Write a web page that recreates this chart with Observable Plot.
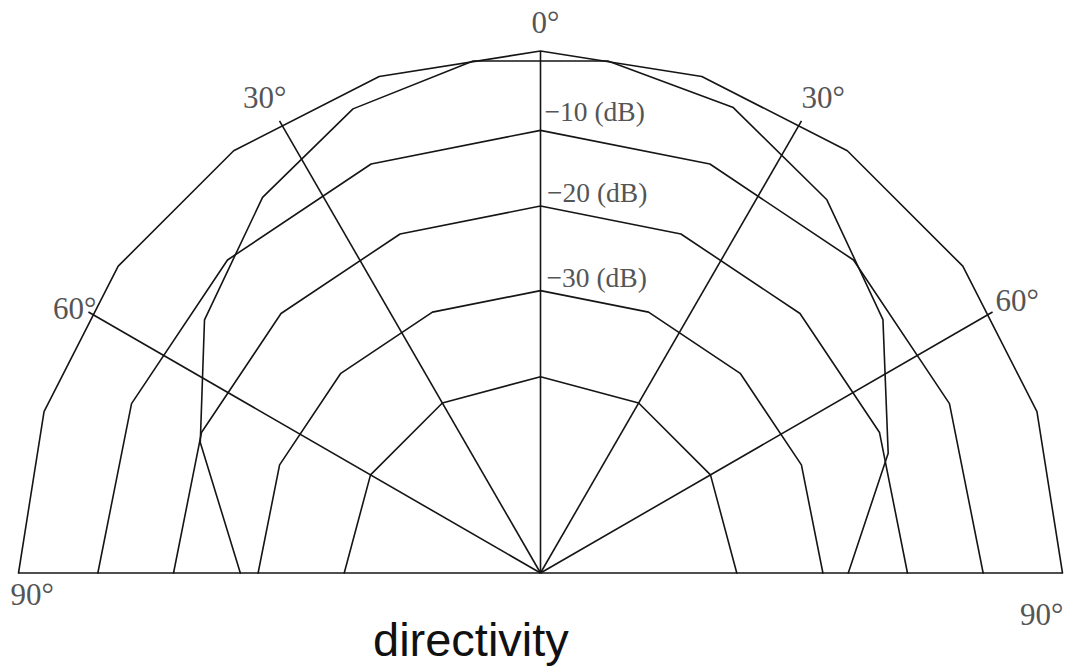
<!DOCTYPE html>
<html>
<head>
<meta charset="utf-8">
<script src="https://cdn.jsdelivr.net/npm/d3@7"></script>
<script src="https://cdn.jsdelivr.net/npm/@observablehq/plot@0.6"></script>
<style>
  body { margin: 0; background: #fff; }
  #chart { width: 1068px; height: 630px; }
  #title {
    margin-top: -20px;
    padding-left: 373px;
    font-family: "Liberation Sans", Arial, sans-serif;
    font-size: 47px;
    line-height: 60px;
    color: #111;
  }
</style>
</head>
<body>
<div id="chart"></div>
<div id="title">directivity</div>
<script>
// ---- data ----
// grid rings (dB) and the angular spacing (deg) of each ring's polygon vertices
const ringLevels = [0, -10, -20, -30, -40];
const ringVertexStep = [18, 22.5, 22.5, 22.5, 30];

// angular spokes (deg from the 0° axis)
const spokeAngles = [-60, -30, 0, 30, 60];

// angle tick labels
const angleTicks = [-90, -60, -30, 0, 30, 60, 90];
const angleTickLabels = ["90°", "60°", "30°", "0°", "30°", "60°", "90°"];

// level labels on the 0° axis
const dbLabelLevels = [-10, -20, -30];
const dbLabelText = ["\u221210 (dB)", "\u221220 (dB)", "\u221230 (dB)"];

// measured directivity pattern: angle (deg) and level (dB)
const patternAngles = [-90, -69, -53, -36.5, -22, -7.5, 7.5, 22.5, 37.5, 53.5, 71, 90];
const patternDb     = [-27.9, -20.3, -12.9, -6.9, -2.7, -0.7, -0.7, -2.3, -6.5, -12.2, -19.9, -27.0];

// ---- layout ----
const W = 1068, H = 630, CX = 540, CY = 572.5, R = 522;
// radial dB axis (outer ring = 1)
const rel = d3.scaleLinear().domain([-40, -30, -20, -10, 0]).range([0.376, 0.541, 0.703, 0.848, 1]);
const toXY = (deg, db) => {
  const a = deg * Math.PI / 180, r = rel(db);
  return {x: r * Math.sin(a), y: r * Math.cos(a)};
};

const ringRows = ringLevels.flatMap((lv, i) => {
  const s = ringVertexStep[i], n = Math.round(180 / s);
  return d3.range(n + 1).map(k => ({ring: lv, ...toXY(-90 + k * s, lv)}));
});
const spokeRows = spokeAngles.map(a => { const p = toXY(a, 0); return {x1: 0, y1: 0, x2: p.x, y2: p.y}; });
const baseRow = [{x1: toXY(-90, 0).x, y1: 0, x2: toXY(90, 0).x, y2: 0}];
const patternRows = patternAngles.map((a, i) => toXY(a, patternDb[i]));

const lineStyle = {stroke: "#151515", strokeWidth: 1.6};
const angleLayout = [
  {textAnchor: "start", dx: -8, dy: 31.5},
  {textAnchor: "end",   dx: 8,  dy: 6.5},
  {textAnchor: "end",   dx: 7,  dy: -12.5},
  {textAnchor: "start", dx: -9, dy: -18.5},
  {textAnchor: "start", dx: 0,  dy: -12.5},
  {textAnchor: "start", dx: 3,  dy: -1.5},
  {textAnchor: "end",   dx: 1,  dy: 51.5}
];
const dbLayout = [{dx: 4, dy: -9}, {dx: 6.5, dy: -4}, {dx: 6, dy: -4}];
const labelFont = {fontFamily: "'Liberation Serif', 'Times New Roman', serif", fill: "#555", lineAnchor: "bottom"};

const angleMarks = angleTicks.map((a, i) => Plot.text([{...toXY(a, 0), t: angleTickLabels[i]}], {
  x: "x", y: "y", text: "t", fontSize: 31, ...labelFont, ...angleLayout[i]
}));
const dbMarks = dbLabelLevels.map((lv, i) => Plot.text([{...toXY(0, lv), t: dbLabelText[i]}], {
  x: "x", y: "y", text: "t", fontSize: 27.5, textAnchor: "start", ariaLabel: "db-label", ...labelFont, ...dbLayout[i]
}));

const plot = Plot.plot({
  width: W, height: H,
  marginTop: 0, marginRight: 0, marginBottom: 0, marginLeft: 0,
  x: {domain: [-CX / R, (W - CX) / R], axis: null},
  y: {domain: [-(H - CY) / R, CY / R], axis: null},
  style: {background: "white", overflow: "visible"},
  marks: [
    Plot.line(ringRows, {x: "x", y: "y", z: "ring", ...lineStyle}),
    Plot.link(spokeRows, {x1: "x1", y1: "y1", x2: "x2", y2: "y2", ...lineStyle}),
    Plot.link(baseRow, {x1: "x1", y1: "y1", x2: "x2", y2: "y2", ...lineStyle}),
    Plot.line(patternRows, {x: "x", y: "y", ...lineStyle}),
    ...angleMarks,
    ...dbMarks
  ]
});
d3.select(plot).selectAll("g[aria-label='db-label'] text").style("letter-spacing", "2.2px");
document.getElementById("chart").appendChild(plot);
</script>
</body>
</html>
